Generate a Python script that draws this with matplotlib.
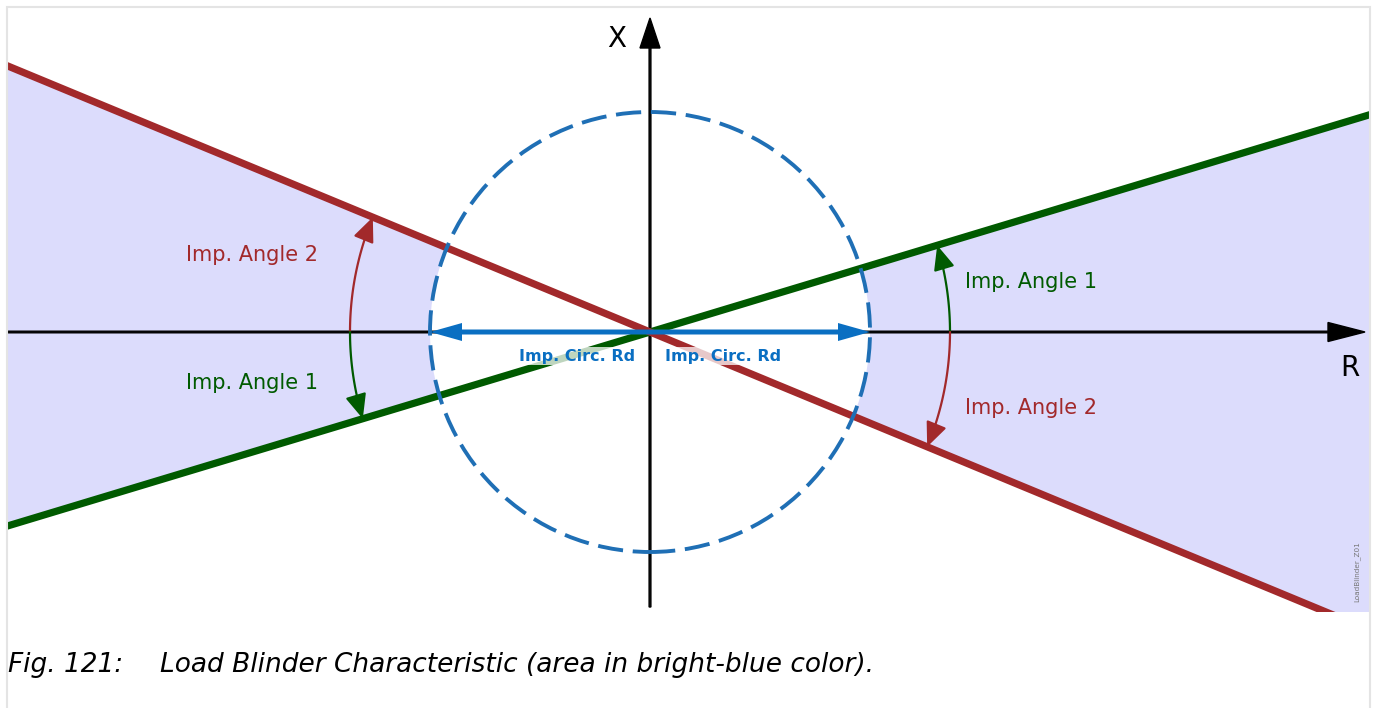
import numpy as np
import matplotlib
matplotlib.use("Agg")
import matplotlib.pyplot as plt
from matplotlib.patches import Polygon, Circle, Rectangle, FancyArrowPatch
from matplotlib.path import Path

# --- chart values (drawing units = pixels, origin at the R/X crossing) ---
imp_angle_1 = 16.8      # deg, green blinder line
imp_angle_2 = 22.5      # deg, red blinder line
circ_rd = 220           # impedance circle radius
arc_radius = 300        # radius of the angle arcs
r_range = (-642, 720)   # visible R extent
x_range = (-280, 325)   # visible X extent

labels_angle = ["Imp. Angle 1", "Imp. Angle 2"]
label_circ = "Imp. Circ. Rd"
axis_names = ["R", "X"]
caption_num = "Fig. 121:"
caption_txt = "Load Blinder Characteristic (area in bright-blue color)."
watermark = "LoadBlinder_Z01"

# --- colours ---
RED = "#a2292b"
GREEN = "#005a00"
FILL = "#dcdcfc"
BLUE = "#0a6fc2"
CIRC = "#1f6fb5"

W, H = 1375, 708
OX, OY = 650, 332   # origin position in the picture (pixels)

fig = plt.figure(figsize=(W / 100, H / 100), dpi=100)
ax = fig.add_axes([0, 0, 1, 1])
ax.set_xlim(-OX, W - OX)
ax.set_ylim(-(H - OY), OY)
ax.axis("off")

clip = Rectangle((r_range[0], x_range[0]), r_range[1] - r_range[0],
                 x_range[1] - x_range[0], transform=ax.transData)

t1 = np.tan(np.radians(imp_angle_1))
t2 = np.tan(np.radians(imp_angle_2))
big = 2000

# --- load areas (bright blue) ---
left = Polygon([(0, 0), (-big, big * t2), (-big, -big * t1)], closed=True,
               facecolor=FILL, edgecolor="none", zorder=1)
right = Polygon([(0, 0), (big, big * t1), (big, -big * t2)], closed=True,
                facecolor=FILL, edgecolor="none", zorder=1)
for p in (left, right):
    ax.add_patch(p)
    p.set_clip_path(clip)

# circle interior stays white
ax.add_patch(Circle((0, 0), circ_rd, facecolor="white", edgecolor="none", zorder=2))

# --- blinder lines ---
xs = np.array([-big, big])
l1, = ax.plot(xs, xs * t1, color=GREEN, lw=5.2, zorder=4, solid_capstyle="butt")
l2, = ax.plot(xs, -xs * t2, color=RED, lw=5.2, zorder=4, solid_capstyle="butt")
l1.set_clip_path(clip)
l2.set_clip_path(clip)

# --- impedance circle (dashed) ---
ax.add_patch(Circle((0, 0), circ_rd, facecolor="none", edgecolor=CIRC, lw=2.8,
                    linestyle=(0, (6.5, 2.5)), zorder=5))

# --- R and X axes ---
ax.arrow(r_range[0], 0, 715 - r_range[0], 0, width=1.6, head_width=19,
         head_length=37, length_includes_head=True, color="black", zorder=3)
ax.arrow(0, -275, 0, 314 + 275, width=1.8, head_width=20,
         head_length=30, length_includes_head=True, color="black", zorder=3)
ax.text(-33, 293, axis_names[1], fontsize=20, ha="center", va="center")
ax.text(700, -36, axis_names[0], fontsize=20, ha="center", va="center")

# --- radius arrows ---
for sgn in (-1, 1):
    ax.arrow(0, 0, sgn * circ_rd, 0, width=5, head_width=18, head_length=32,
             length_includes_head=True, color=BLUE, lw=0, zorder=7)
for xc in (-73, 73):
    ax.text(xc, -24, label_circ, color=BLUE, fontsize=11.5, fontweight="bold",
            ha="center", va="center", zorder=6,
            bbox=dict(facecolor="white", alpha=0.75, edgecolor="none", pad=1))


# --- angle arcs ---
def arc(a0, a1, color):
    th = np.radians(np.linspace(a0, a1, 60))
    path = Path(np.column_stack([arc_radius * np.cos(th), arc_radius * np.sin(th)]))
    ax.add_patch(FancyArrowPatch(path=path, arrowstyle="-|>,head_length=15,head_width=6.5",
                                 mutation_scale=1, color=color, lw=1.6, zorder=6))


arc(0, imp_angle_1, GREEN)
arc(0, -imp_angle_2, RED)
arc(180, 180 - imp_angle_2, RED)
arc(180, 180 + imp_angle_1, GREEN)

fs = 15
ax.text(-332, 77, labels_angle[1], color=RED, fontsize=fs, ha="right", va="center")
ax.text(-332, -51, labels_angle[0], color=GREEN, fontsize=fs, ha="right", va="center")
ax.text(315, 50, labels_angle[0], color=GREEN, fontsize=fs, ha="left", va="center")
ax.text(315, -76, labels_angle[1], color=RED, fontsize=fs, ha="left", va="center")

ax.text(707, -240, watermark, color="#777777", fontsize=5.2, rotation=90,
        ha="center", va="center")

# --- frame and caption ---
fig.patches.append(Rectangle((7 / W, -0.1), (1370 - 7) / W, 1.1 - 7 / H,
                             transform=fig.transFigure, fill=False,
                             edgecolor="#e4e4e4", lw=1.5))
fig.text(8 / W, 1 - 665 / H, caption_num, fontsize=19, style="italic", va="center")
fig.text(160 / W, 1 - 665 / H, caption_txt, fontsize=19, style="italic", va="center")

fig.savefig("out.png", dpi=100)
